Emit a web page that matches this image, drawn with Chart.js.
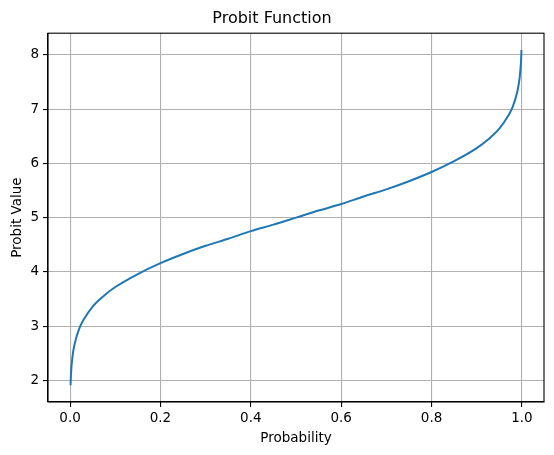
<!DOCTYPE html>
<html>
<head>
<meta charset="utf-8">
<script src="https://cdn.jsdelivr.net/npm/chart.js@4/dist/chart.umd.min.js"></script>
<style>
  html, body { margin: 0; padding: 0; background: #fff; }
  #wrap { width: 554px; height: 455px; }
</style>
</head>
<body>
<div id="wrap"><canvas id="myChart"></canvas></div>
<script>
const probs = [0.001, 0.002, 0.005, 0.01, 0.02, 0.03, 0.05, 0.075, 0.1, 0.15, 0.2, 0.25, 0.3, 0.35, 0.4, 0.45, 0.5,
               0.55, 0.6, 0.65, 0.7, 0.75, 0.8, 0.85, 0.9, 0.925, 0.95, 0.97, 0.98, 0.99, 0.995, 0.998, 0.999]
const probits = [1.91, 2.12, 2.42, 2.67, 2.95, 3.12, 3.36, 3.56, 3.72, 3.96, 4.16, 4.33, 4.48, 4.61, 4.75, 4.87, 5.00,
                 5.13, 5.25, 5.39, 5.52, 5.67, 5.84, 6.04, 6.28, 6.44, 6.64, 6.88, 7.05, 7.33, 7.58, 7.88, 8.09]
const xTicks = [0.0, 0.2, 0.4, 0.6, 0.8, 1.0]
const yTicks = [2, 3, 4, 5, 6, 7, 8]

const font = 'DejaVu Sans'

// top and right spines
const frame = {
    id: 'frame',
    afterDraw(chart) {
        const a = chart.chartArea, c = chart.ctx
        c.save()
        c.strokeStyle = '#000'
        c.lineWidth = 1.1
        c.strokeRect(a.left, a.top, a.right - a.left, a.bottom - a.top)
        c.restore()
    }
}

new Chart(document.getElementById('myChart'), {
    type: 'line',
    data: {
        datasets: [{
            label: 'Probit',
            data: probs.map((p, i) => ({ x: p, y: probits[i] })),
            borderColor: '#1f77b4',
            borderWidth: 2,
            pointRadius: 0,
            cubicInterpolationMode: 'monotone',
            fill: false
        }]
    },
    options: {
        responsive: true,
        maintainAspectRatio: false,
        animation: false,
        layout: { padding: { left: 0, right: 10, top: 0, bottom: 0 } },
        plugins: {
            legend: { display: false },
            tooltip: { enabled: false },
            title: {
                display: true,
                text: 'Probit Function',
                color: '#000',
                font: { family: font, size: 16, weight: 'normal', lineHeight: 1.2 },
                padding: { top: 9, bottom: 5 }
            }
        },
        scales: {
            x: {
                type: 'linear',
                min: -0.0489,
                max: 1.0489,
                afterBuildTicks: s => { s.ticks = xTicks.map(v => ({ value: v })) },
                afterFit: s => { s.height = 53 },
                grid: { color: '#b0b0b0', lineWidth: 1.1, tickColor: '#000', tickLength: 5 },
                border: { color: '#000', width: 1.1 },
                ticks: {
                    color: '#000', padding: 3,
                    font: { family: font, size: 13.5 },
                    callback: v => v.toFixed(1)
                },
                title: {
                    display: true, text: 'Probability', color: '#000',
                    font: { family: font, size: 13.5 }, padding: { top: 2, bottom: 8 }
                }
            },
            y: {
                type: 'linear',
                min: 1.601,
                max: 8.399,
                afterBuildTicks: s => { s.ticks = yTicks.map(v => ({ value: v })) },
                afterFit: s => { s.width = 48 },
                grid: { color: '#b0b0b0', lineWidth: 1.1, tickColor: '#000', tickLength: 5 },
                border: { color: '#000', width: 1.1 },
                ticks: {
                    color: '#000', padding: 4,
                    font: { family: font, size: 13.5 }
                },
                title: {
                    display: true, text: 'Probit Value', color: '#000',
                    font: { family: font, size: 13.5 }, padding: { top: 9, bottom: 0 }
                }
            }
        }
    },
    plugins: [frame]
})
</script>
</body>
</html>
